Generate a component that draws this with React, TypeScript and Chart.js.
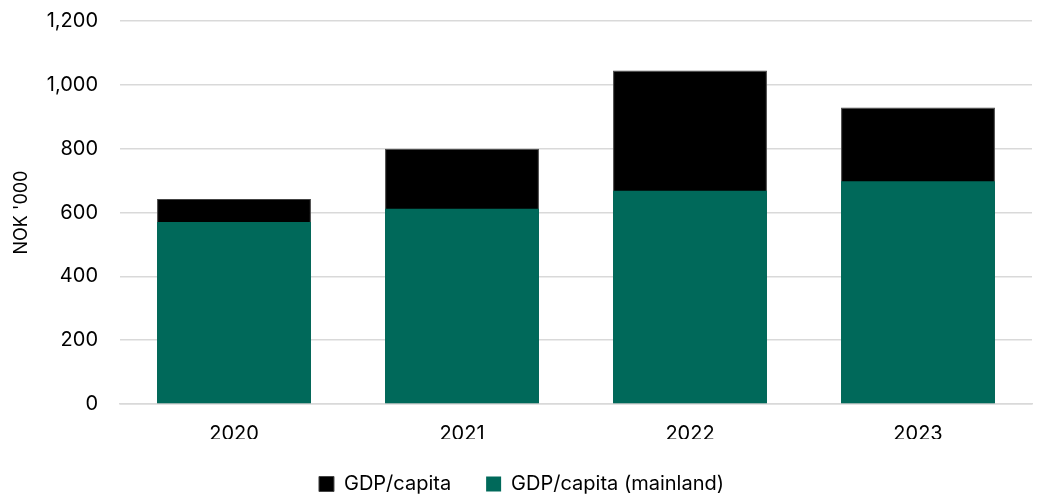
import React, { useEffect, useRef } from "react";
import { Chart, registerables } from "chart.js";

Chart.register(...registerables);

const categories = ["2020", "2021", "2022", "2023"];
const gdpPerCapita = [642, 800, 1045, 929];
const gdpPerCapitaMainland = [570, 612, 668, 698];
const yTicks = [0, 200, 400, 600, 800, 1000, 1200];

const FONT = "Inter, 'Noto Sans', sans-serif";

export default function App() {
  const ref = useRef<HTMLCanvasElement | null>(null);
  useEffect(() => {
    if (!ref.current) return;
    const chart = new Chart(ref.current, {
      type: "bar",
      data: {
        labels: categories,
        datasets: [
          {
            label: "GDP/capita (mainland)",
            data: gdpPerCapitaMainland,
            backgroundColor: "#00695a",
            barPercentage: 0.675,
            categoryPercentage: 1,
          },
          {
            label: "GDP/capita",
            data: gdpPerCapita,
            backgroundColor: "#000000",
            borderColor: "#444444",
            borderWidth: 1,
            barPercentage: 0.675,
            categoryPercentage: 1,
          },
        ],
      },
      options: {
        animation: false,
        responsive: false,
        maintainAspectRatio: false,
        layout: { autoPadding: false, padding: { top: 21, right: 15, left: 11, bottom: -9 } },
        plugins: {
          tooltip: { enabled: false },
          legend: {
            position: "bottom",
            reverse: true,
            labels: {
              boxWidth: 15,
              boxHeight: 15,
              padding: 35,
              color: "#000",
              font: { family: FONT, size: 20 },
            },
          },
        },
        scales: {
          x: {
            stacked: true,
            grid: { display: false, drawTicks: false },
            border: { display: true, color: "#d9d9d9", width: 1.5 },
            ticks: { color: "#000", font: { family: FONT, size: 20 }, padding: 18 },
            afterFit: (axis: any) => {
              axis.height = 35;
            },
          },
          y: {
            stacked: false,
            min: 0,
            max: 1200,
            afterBuildTicks: (axis: any) => {
              axis.ticks = yTicks.map((v) => ({ value: v }));
            },
            afterFit: (axis: any) => {
              axis.width = 109;
              axis.paddingTop = 0;
              axis.paddingBottom = 0;
            },
            grid: { color: "#d9d9d9", lineWidth: 1.5, drawTicks: false },
            border: { display: false },
            ticks: {
              color: "#000",
              padding: 22,
              font: { family: FONT, size: 20 },
              callback: (v: any) => Number(v).toLocaleString("en-US"),
            },
            title: {
              display: true,
              text: "NOK '000",
              color: "#000",
              font: { family: FONT, size: 18 },
              padding: { top: 0, bottom: 0 },
            },
          },
        },
      },
    });
    return () => chart.destroy();
  }, []);
  return (
    <div style={{ position: "fixed", left: 0, top: 0, width: 1047, height: 495 }}>
      <canvas ref={ref} width={1047} height={495} style={{ display: "block" }} />
    </div>
  );
}
